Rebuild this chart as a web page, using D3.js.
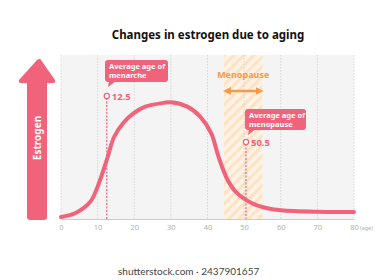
<!DOCTYPE html>
<html lang="en">
<head>
<meta charset="UTF-8">
<title>Changes in estrogen due to aging</title>
<script src="https://cdn.jsdelivr.net/npm/d3@7"></script>
<style>
    body { margin: 0; background: #fff; }
    svg { display: block; font-family: "Noto Sans", "Liberation Sans", sans-serif; }
</style>
</head>
<body>
<svg id="chart" width="392" height="280"></svg>
<script>
    // data
    var ages = [0, 4, 8, 10, 12.5, 14.5, 17, 19.5, 23, 28, 30, 34.5, 38, 41, 43, 45.5, 48, 52, 56, 60, 70, 80];
    var estrogen = [1.2, 3.7, 10.5, 19.7, 36, 50, 58.5, 64, 68.5, 70.8, 71.2, 68.5, 62.4, 52.4, 38, 23.8, 15.9, 9.8, 6.7, 5.3, 4.4, 4.3];
    var xTicks = [0, 10, 20, 30, 40, 50, 60, 70, 80];
    var menopauseRange = [44.5, 55];
    var markers = [
        {age: 12.5, label: "12.5", lines: ["Average age of", "menarche"]},
        {age: 50.5, label: "50.5", lines: ["Average age of", "menopause"]}
    ];

    var pink = "#f0637b";
    var orange = "#f59a4c";

    var svg = d3.select("#chart");
    var x = d3.scaleLinear().domain([0, 80]).range([61, 354]);
    var y = d3.scaleLinear().domain([0, 100]).range([219, 55]);

    var defs = svg.append("defs");
    var pat = defs.append("pattern")
        .attr("id", "hatch")
        .attr("patternUnits", "userSpaceOnUse")
        .attr("width", 7).attr("height", 7)
        .attr("patternTransform", "rotate(45)");
    pat.append("rect").attr("width", 7).attr("height", 7).attr("fill", "#fff3e6");
    pat.append("rect").attr("width", 3.2).attr("height", 7).attr("fill", "#fde3c6");

    defs.append("marker")
        .attr("id", "ah")
        .attr("viewBox", "0 0 10 10")
        .attr("refX", 5).attr("refY", 5)
        .attr("markerWidth", 3).attr("markerHeight", 3)
        .attr("orient", "auto-start-reverse")
        .append("path").attr("d", "M0,0L10,5L0,10z").attr("fill", orange);

    // title
    svg.append("text")
        .attr("x", 208).attr("y", 39)
        .attr("text-anchor", "middle")
        .attr("font-size", 11.5).attr("font-weight", "bold")
        .attr("fill", "#111")
        .text("Changes in estrogen due to aging");

    // plot background
    svg.append("rect")
        .attr("x", x(0)).attr("y", y(100))
        .attr("width", x(80) - x(0)).attr("height", y(0) - y(100))
        .attr("fill", "#f4f4f4");

    // menopause band
    svg.append("rect")
        .attr("x", x(menopauseRange[0])).attr("y", y(100))
        .attr("width", x(menopauseRange[1]) - x(menopauseRange[0]))
        .attr("height", y(0) - y(100))
        .attr("fill", "url(#hatch)");

    // grid
    svg.selectAll(".grid").data(xTicks).enter().append("line")
        .attr("x1", function (d) { return x(d); })
        .attr("x2", function (d) { return x(d); })
        .attr("y1", y(100)).attr("y2", y(0))
        .attr("stroke", "#cfcfcf").attr("stroke-width", 0.8)
        .attr("stroke-dasharray", "1.5,1.5");

    // x axis
    var axis = svg.append("g")
        .attr("transform", "translate(0," + y(0) + ")")
        .call(d3.axisBottom(x).tickValues(xTicks).tickSize(0).tickPadding(6));
    axis.select(".domain").attr("stroke", "#cccccc").attr("stroke-width", 1.2);
    axis.selectAll("text").attr("fill", "#b0b0b0").attr("font-size", 7.5)
        .attr("font-family", "Noto Sans, sans-serif");
    svg.append("text")
        .attr("x", x(80) + 6).attr("y", y(0) + 11)
        .attr("font-size", 5.5).attr("fill", "#b0b0b0")
        .text("(age)");

    // marker dashed lines
    svg.selectAll(".mline").data(markers).enter().append("line")
        .attr("x1", function (d) { return x(d.age); })
        .attr("x2", function (d) { return x(d.age); })
        .attr("y1", function (d, i) { return i === 0 ? 98 : 144; })
        .attr("y2", y(0))
        .attr("stroke", pink).attr("stroke-width", 1.2)
        .attr("stroke-dasharray", "2,1.5");

    // curve
    var pts = ages.map(function (a, i) { return [a, estrogen[i]]; });
    svg.append("path")
        .datum(pts)
        .attr("fill", "none")
        .attr("stroke", pink)
        .attr("stroke-width", 4)
        .attr("stroke-linecap", "round")
        .attr("d", d3.line()
            .x(function (d) { return x(d[0]); })
            .y(function (d) { return y(d[1]); })
            .curve(d3.curveCatmullRom.alpha(0.5)));

    // estrogen arrow
    svg.append("path")
        .attr("d", "M39,59 Q40,58 41,60 L55,80 Q56,83 53,83 L47,83 L47,217 Q47,220 44,220 L30,220 Q27,220 27,217 L27,83 L21,83 Q18,83 19,80 L37,60 Z")
        .attr("fill", pink);
    svg.append("text")
        .attr("transform", "translate(41,138) rotate(-90)")
        .attr("text-anchor", "middle")
        .attr("font-size", 10).attr("font-weight", "bold")
        .attr("fill", "#fff")
        .text("Estrogen");

    // menopause label and double arrow
    svg.append("text")
        .attr("x", x(49.75)).attr("y", 78)
        .attr("text-anchor", "middle")
        .attr("font-size", 9).attr("font-weight", "bold")
        .attr("fill", orange)
        .text("Menopause");
    svg.append("line")
        .attr("x1", x(menopauseRange[0]) + 3).attr("x2", x(menopauseRange[1]) - 3)
        .attr("y1", 91).attr("y2", 91)
        .attr("stroke", orange).attr("stroke-width", 2.6)
        .attr("marker-start", "url(#ah)").attr("marker-end", "url(#ah)");

    // callouts
    var boxes = [
        {x: 105, y: 60, w: 63, h: 22, cy: 96},
        {x: 245, y: 109, w: 61, h: 21, cy: 142}
    ];
    markers.forEach(function (m, i) {
        var b = boxes[i];
        var g = svg.append("g");
        g.append("rect")
            .attr("x", b.x).attr("y", b.y).attr("width", b.w).attr("height", b.h)
            .attr("rx", 3).attr("fill", pink);
        g.append("path")
            .attr("d", "M" + (b.x + 4) + "," + (b.y + b.h - 1) + " L" + (b.x + 3) + "," + (b.y + b.h + 5) +
                " L" + (b.x + 11) + "," + (b.y + b.h - 1) + " Z")
            .attr("fill", pink);
        g.selectAll("text.cl").data(m.lines).enter().append("text")
            .attr("x", b.x + 4)
            .attr("y", function (d, j) { return b.y + 9 + j * 8.5; })
            .attr("font-size", 7.5).attr("font-weight", "bold")
            .attr("fill", "#fff")
            .text(function (d) { return d; });
        g.append("circle")
            .attr("cx", x(m.age)).attr("cy", b.cy).attr("r", 2.6)
            .attr("fill", "#fff").attr("stroke", pink).attr("stroke-width", 1.2);
        g.append("text")
            .attr("x", x(m.age) + 5).attr("y", b.cy + 3.5)
            .attr("font-size", 9.5).attr("font-weight", "bold")
            .attr("fill", pink)
            .text(m.label);
    });

    // watermark
    svg.append("text")
        .attr("x", 118).attr("y", 275)
        .attr("font-size", 10).attr("fill", "#444")
        .attr("font-family", "Lato, sans-serif")
        .text("shutterstock.com · 2437901657");
</script>
</body>
</html>
